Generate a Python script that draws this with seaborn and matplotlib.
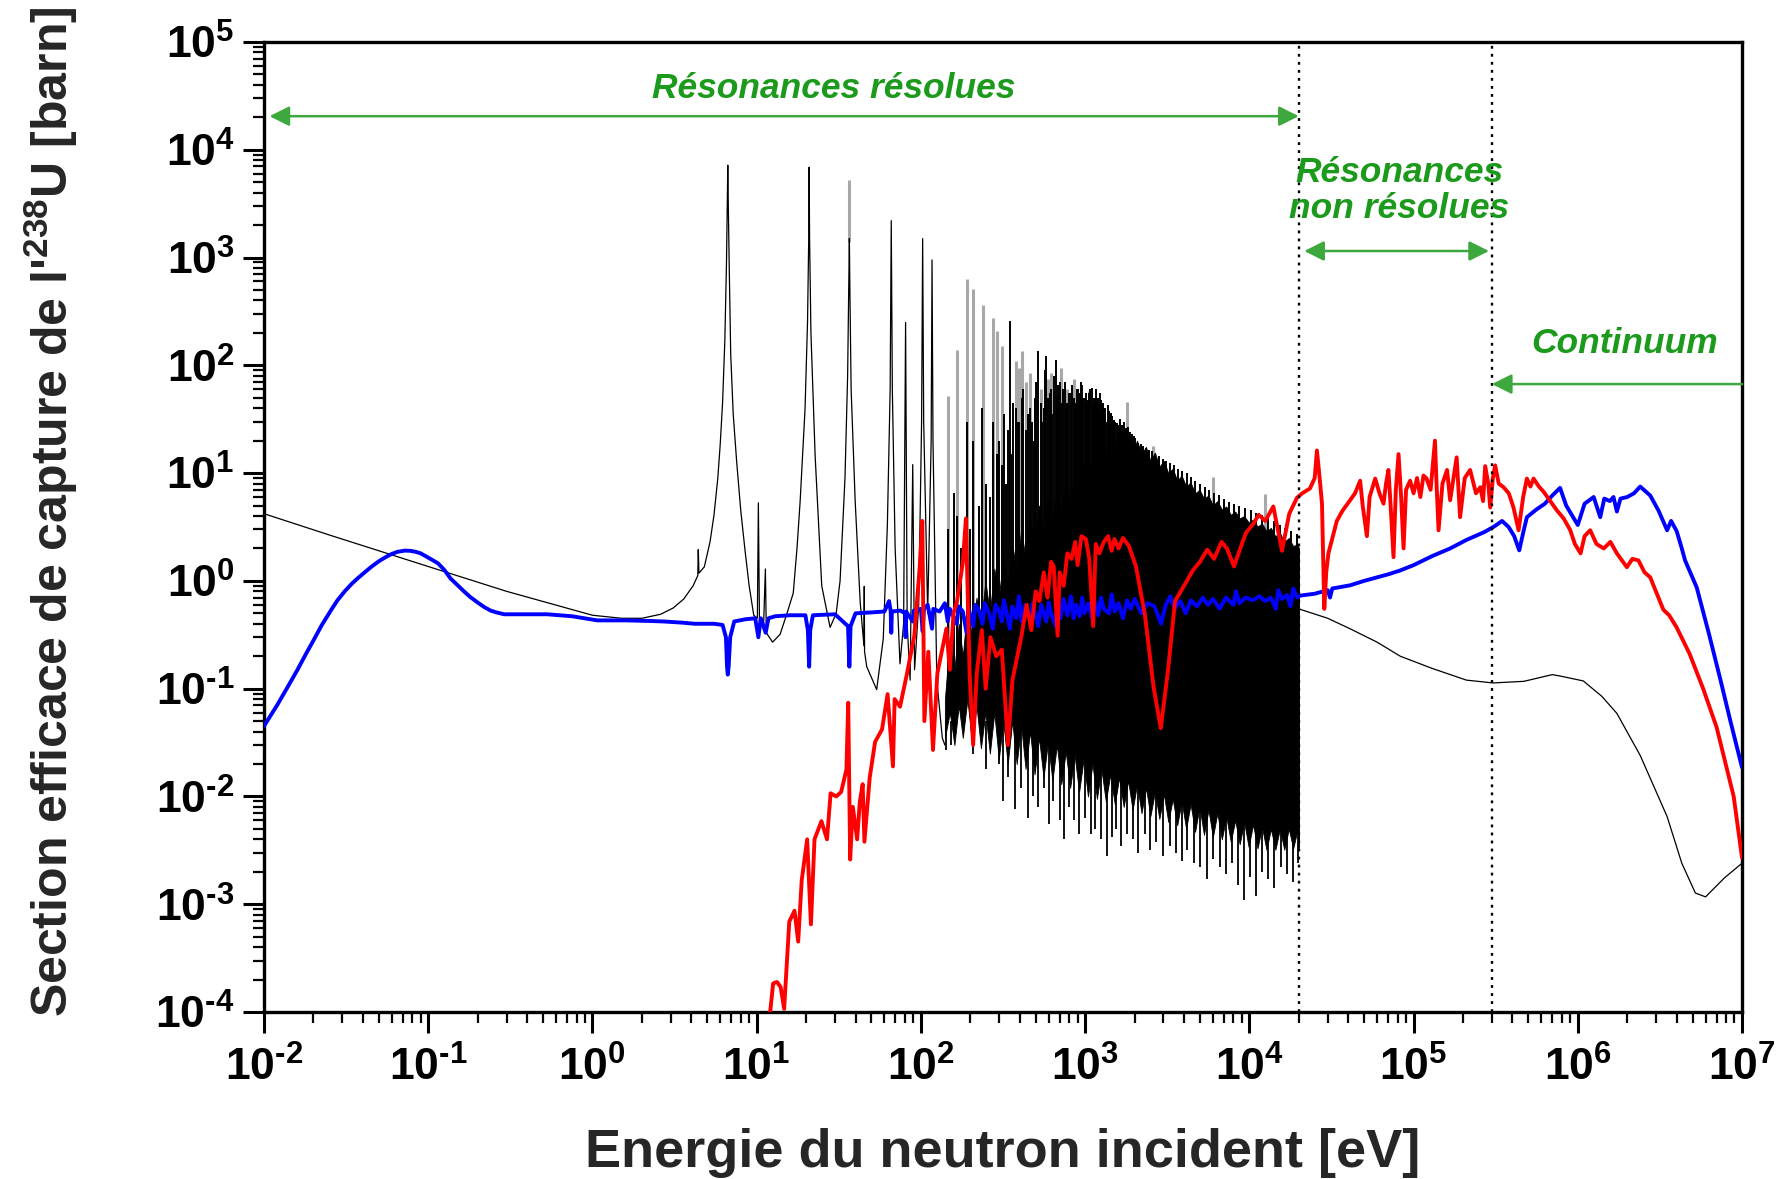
import numpy as np
import pandas as pd
import matplotlib
matplotlib.use("Agg")
import matplotlib.pyplot as plt
from matplotlib.ticker import LogLocator, FixedLocator, FuncFormatter, NullFormatter
import seaborn as sns

# ---------------------------------------------------------------------------
# U-238 capture cross section (barn) vs neutron energy (eV)
# ---------------------------------------------------------------------------
# thermal / epithermal region with the first resolved resonances
black_lo_E = [0.01, 0.0253, 0.1, 0.3, 1.0, 1.5, 2.0, 2.6, 3.1, 3.6, 4.1, 4.38, 4.41, 4.45, 4.8,
              5.2, 5.5, 5.8, 6.0, 6.2, 6.4, 6.55, 6.62, 6.67, 6.72, 6.8, 6.95, 7.2, 7.55, 8.0,
              8.5, 9.0, 9.6, 10.1, 10.24, 10.4, 11.0, 11.3, 11.45, 12.5, 13.9, 15.3, 16.7,
              17.6, 18.4, 19.7, 20.4, 20.75, 20.87, 21.0, 21.4, 22.7, 24.9, 28.0, 30.5, 32.2,
              34.5, 35.8, 36.4, 36.68, 36.95, 37.6, 39.8, 42.7, 45.0, 45.2, 45.4, 46.8, 53.8,
              59.0, 62.5, 65.0, 66.0, 67.0, 69.7, 74.6, 78.5, 80.7, 82.5, 86.0, 89.2, 91.5,
              97.0, 101.0, 102.5, 104.0, 110.0, 115.5, 116.9, 118.5, 125.0, 135.0, 140.0]
black_lo_s = [4.2, 2.65, 1.36, 0.8, 0.48, 0.45, 0.45, 0.49, 0.56, 0.68, 0.9, 1.12, 1.95, 1.18, 1.35,
              2.3, 4.1, 9.0, 18.6, 45, 170, 900, 3000, 7200, 3000, 900, 126, 35, 12.9, 4.5,
              1.9, 0.9, 0.48, 0.45, 5.3, 0.42, 0.36, 1.29, 0.33, 0.27, 0.32, 0.5, 0.77,
              2.0, 5.5, 39, 250, 1500, 6900, 1500, 200, 14.5, 0.9, 0.37, 0.5, 1.0,
              9.0, 80, 600, 1500, 500, 60, 5.5, 0.63, 0.25, 0.89, 0.22, 0.16, 0.098,
              0.29, 3.3, 60, 2200, 60, 2.0, 0.17, 0.4, 250, 0.4, 0.12, 12, 0.15,
              0.6, 30, 1500, 30, 0.5, 20, 950, 20, 0.12, 0.035, 0.03]

# dense resonance forest: ragged limits of the solid band
band_E = [140, 150, 160, 170, 180, 192, 205, 218, 232, 247, 263, 280, 298, 317, 338, 360, 383,
          408, 434, 462, 492, 524, 558, 594, 632, 673, 716, 762, 811, 863, 919, 978, 1041, 1108,
          1180, 1256, 1337, 1423, 1515, 1613, 1717, 1828, 1946, 2071, 2205, 2347, 2499, 2660,
          2832, 3015, 3209, 3417, 3637, 3872, 4122, 4388, 4671, 4973, 5294, 5636, 6000, 6387,
          6799, 7238, 7706, 8203, 8733, 9297, 9897, 10536, 11216, 11940, 12711, 13532, 14406,
          15336, 16326, 17381, 18503, 19698, 20000]
band_top = [0.08, 0.3, 0.15, 0.4, 0.2, 0.6, 0.3, 0.7, 0.4, 1.0, 0.5, 1.3, 0.7, 1.6, 0.9, 2.2, 1.2,
            3.0, 1.6, 4.0, 2.2, 5.0, 2.8, 6.0, 3.5, 7.0, 4.0, 8.5, 5.0, 10, 6, 12, 7, 15,
            10, 20, 14, 26, 18, 24, 17, 22, 16, 20, 15, 17.5, 13, 15.5,
            11.5, 13, 10, 11, 8.5, 9.5, 7.5, 8.2, 6.5, 7.0, 5.8, 6.2, 5.0, 5.5,
            4.6, 4.9, 4.1, 4.4, 3.8, 4.0, 3.5, 3.7, 3.2, 3.4, 2.9, 3.1, 2.6,
            2.8, 2.3, 2.5, 2.1, 2.2, 2.0]
band_bot = [0.035, 0.06, 0.03, 0.07, 0.035, 0.08, 0.03, 0.07, 0.028, 0.06, 0.025, 0.06, 0.022,
            0.05, 0.02, 0.05, 0.02, 0.045, 0.018, 0.04, 0.016, 0.035, 0.015, 0.032, 0.014, 0.03,
            0.013, 0.026, 0.012, 0.024, 0.011, 0.022, 0.01, 0.02, 0.0095, 0.018, 0.009, 0.016,
            0.0085, 0.015, 0.008, 0.014, 0.0075, 0.013, 0.007, 0.012, 0.0066, 0.011, 0.0062,
            0.0105, 0.0058, 0.0095, 0.0054, 0.009, 0.005, 0.0085, 0.0047, 0.008, 0.0044, 0.0075,
            0.0042, 0.007, 0.004, 0.0065, 0.0038, 0.006, 0.0036, 0.0058, 0.0034, 0.0055, 0.0033,
            0.0052, 0.0032, 0.005, 0.0032, 0.005, 0.0032, 0.005, 0.0033, 0.005, 0.0033]

# resonance peaks rising above the band (black evaluation)
peak_E = [146, 160, 166, 175, 190, 199, 209, 225, 237, 250, 264, 274, 291, 311, 330, 348, 377,
          398, 410, 434, 463, 478, 489, 519, 535, 550, 580, 595, 620, 661, 693, 708, 722, 730,
          781, 821, 851, 866, 906, 925, 937, 959, 992, 1023, 1054, 1098, 1110, 1131, 1140,
          1167, 1177, 1195, 1211, 1245, 1267, 1298, 1316, 1360, 1391, 1405, 1420, 1444, 1473,
          1522, 1597, 1639, 1662, 1688, 1709, 1755, 1782, 1797, 1845, 1870, 1903, 1968, 2020,
          2100, 2180, 2260, 2350, 2440, 2560, 2680, 2820, 2970, 3120, 3300, 3480, 3700, 3900,
          4150, 4400, 4700, 5000, 5350, 5700, 6100, 6500, 7000, 7500, 8100, 8700, 9400, 10200,
          11000, 12000, 13000, 14100, 15300, 16600, 18000, 19500,
          300, 320, 340, 355, 365, 390, 420, 450, 495, 505, 560, 570, 610, 630, 645, 675, 685,
          750, 760, 800, 835, 880, 895, 945, 975, 1010, 1040, 1070, 1120, 1160, 1185, 1230,
          1280, 1330, 1375, 1435, 1460, 1500, 1560, 1620, 1680, 1730, 1770, 1820, 1880, 1940,
          1990]
peak_s = [3, 6.6, 4, 2, 30, 3, 20, 5, 40, 8, 6, 30, 15, 12, 8, 260, 40,
          30, 50, 25, 40, 30, 20, 135, 45, 30, 122, 50, 60, 113, 40, 70, 45, 60,
          45, 55, 50, 40, 60, 55, 45, 65, 50, 45, 55, 62, 40, 50, 45,
          60, 40, 50, 38, 48, 44, 40, 35, 30, 38, 33, 30, 35, 30,
          30, 28, 25, 27, 24, 25, 23, 26, 22, 22, 21, 20, 20, 21,
          19, 18.5, 18, 17, 16.5, 16, 15, 14.5, 13.5, 13, 12.5, 12, 11, 10.5,
          10, 9.2, 8.5, 8, 7.5, 7, 6.6, 6.2, 5.8, 5.4, 5.2, 5.0, 4.7, 4.5,
          4.3, 4.1, 3.9, 3.6, 3.3, 3.1, 2.9, 2.7,
          20, 35, 25, 15, 45, 30, 60, 35, 50, 70, 40, 90, 55, 35, 80, 50, 65,
          70, 40, 55, 65, 45, 60, 70, 50, 55, 48, 60, 42, 52, 47, 55,
          45, 40, 43, 36, 34, 31, 29, 32, 28, 30, 26, 27, 24, 23,
          22]

# minima between resonances reaching below the band
dip_E = [143, 152, 208, 248, 300, 318, 340, 375, 405, 446, 480, 520, 560, 600, 640, 700, 740,
         800, 850, 920, 1000, 1080, 1150, 1250, 1360, 1450, 1550, 1650, 1800, 1950, 2100, 2300,
         2500, 2700, 3000, 3300, 3600, 3900, 4200, 4600, 5000, 5500, 6000, 6600, 7200, 7800,
         8500, 9300, 10100, 11000, 12000, 13000, 14200, 15500, 17000, 18500, 19800]
dip_s = [0.027, 0.03, 0.025, 0.018, 0.02, 0.009, 0.015, 0.0076, 0.012, 0.0063, 0.01, 0.008,
         0.012, 0.0055, 0.009, 0.006, 0.004, 0.008, 0.006, 0.0045, 0.0063, 0.0045, 0.005, 0.004,
         0.0028, 0.0042, 0.005, 0.0035, 0.0045, 0.004, 0.003, 0.0045, 0.0032, 0.0038, 0.0028,
         0.0035, 0.003, 0.0025, 0.0032, 0.0024, 0.0022, 0.0017, 0.0026, 0.0022, 0.0019, 0.0024,
         0.0015, 0.0011, 0.0018, 0.0012, 0.002, 0.0017, 0.0014, 0.0022, 0.0019, 0.0016, 0.0024]

# second evaluation (grey) where its peaks differ
grey_E = [36.68, 145.7, 165.3, 189.7, 208.5, 237.4, 273.7, 291.0, 311.3, 376.9, 397.6, 410.2,
          434.0, 463.0, 535.3, 595.0, 619.9, 693.1, 708.4, 721.6, 780.9, 851.0, 907.3, 936.8,
          991.8, 1054, 1110, 1167, 1245, 1298, 1391, 1473, 1790, 2600, 6000, 12500]
grey_s = [5200, 52, 140, 630, 510, 365, 275, 210, 150, 110, 95, 135,
          70, 85, 60, 75, 85, 65, 95, 55, 60, 74, 55, 50,
          45, 58, 48, 40, 36, 33, 30, 27, 46, 18, 9.2, 6.4]
grey_base = [1400] + [0.1] * 35

# unresolved resonance range and continuum (smooth)
black_hi_E = [2.0e4, 3.0e4, 4.1e4, 6.0e4, 8.3e4, 1.3e5, 2.1e5, 3.05e5, 4.7e5, 7.0e5, 8.0e5,
              1.08e6, 1.4e6, 1.73e6, 2.4e6, 3.5e6, 4.3e6, 5.2e6, 6.0e6, 7.8e6, 1.0e7]
black_hi_s = [0.55, 0.45, 0.36, 0.27, 0.2, 0.154, 0.12, 0.113, 0.117, 0.135, 0.13,
              0.118, 0.085, 0.059, 0.024, 0.0065, 0.0024, 0.00127, 0.00117, 0.00175, 0.0024]

# ---------------------------------------------------------------------------
# blue spectrum
# ---------------------------------------------------------------------------
blue_E = [0.01, 0.012, 0.014, 0.016, 0.018, 0.02, 0.0225, 0.0255, 0.028, 0.031, 0.034, 0.037,
          0.041, 0.045, 0.05, 0.055, 0.06, 0.065, 0.072, 0.078, 0.084, 0.09, 0.099, 0.107,
          0.115, 0.125, 0.137, 0.15, 0.165, 0.18, 0.2, 0.22, 0.24, 0.26, 0.29, 0.4, 0.53,
          0.75, 1.07, 1.6, 2.2, 2.73,
          3.5, 4.2, 4.8, 5.5, 6.2, 6.5, 6.6, 6.67, 6.75, 6.9, 7.3, 8.5, 9.8, 10.24, 10.6,
          11.35, 11.8, 13, 16, 19.8, 20.5, 20.87, 21.2, 22, 30, 36.0, 36.68, 37.3, 40, 50,
          60, 64, 65.5, 66.0, 66.6, 75, 80.2, 80.7, 81.3, 89.2, 90.5, 100, 102.5, 104.5, 110,
          116.9, 119, 130, 140, 145.7, 150, 165.3, 170, 180, 189.7, 195, 208.5, 215, 225,
          237.4, 245, 260, 273.7, 285, 300, 311, 320, 348, 360, 380, 395, 410, 430, 463, 480,
          519, 540, 580, 600, 620, 661, 680, 708, 740, 781, 820, 851, 880, 925, 960, 990,
          1050, 1100, 1140, 1200, 1250, 1300, 1400, 1450, 1520, 1600, 1700, 1800, 1900, 2000,
          2200, 2400, 2650, 2900, 3100, 3300, 3500, 3800, 4100, 4400, 4800, 5200, 5600, 6000,
          6600, 7200, 8000, 8300, 8700, 9500, 10500, 11500, 12500, 13500, 14500, 15000, 15800,
          17000, 17800, 18500, 19500, 20400, 25000, 30000, 31000, 32000, 41100, 50000, 60000,
          70000, 83000, 1.0e5, 1.3e5, 1.67e5, 2.1e5, 2.7e5, 3.1e5, 3.46e5, 3.8e5, 4.1e5,
          4.4e5, 4.7e5, 4.9e5, 5.6e5, 6.3e5, 7.0e5, 7.8e5, 8.5e5, 1.0e6, 1.1e6, 1.25e6,
          1.37e6, 1.45e6, 1.57e6, 1.65e6, 1.73e6, 1.82e6, 2.0e6, 2.2e6, 2.4e6, 2.76e6, 3.1e6,
          3.5e6, 3.7e6, 4.0e6, 4.3e6, 4.5e6, 5.3e6, 6.3e6, 7.4e6, 8.5e6, 1.0e7]
blue_s = [0.045, 0.07, 0.105, 0.15, 0.21, 0.28, 0.39, 0.53, 0.66, 0.8, 0.93, 1.05,
          1.2, 1.35, 1.52, 1.66, 1.78, 1.86, 1.91, 1.9, 1.86, 1.8, 1.66, 1.55,
          1.45, 1.27, 1.05, 0.92, 0.8, 0.71, 0.63, 0.57, 0.53, 0.51, 0.49, 0.49, 0.49,
          0.47, 0.43, 0.43, 0.425, 0.42,
          0.41, 0.40, 0.40, 0.40, 0.39, 0.3, 0.16, 0.135, 0.16, 0.3, 0.42, 0.44, 0.45, 0.3, 0.45,
          0.33, 0.45, 0.47, 0.48, 0.48, 0.35, 0.16, 0.35, 0.48, 0.49, 0.38, 0.16, 0.38, 0.5, 0.51,
          0.52, 0.65, 0.52, 0.33, 0.52, 0.53, 0.5, 0.3, 0.52, 0.42, 0.53, 0.55, 0.34, 0.55, 0.6,
          0.36, 0.55, 0.52, 0.62, 0.42, 0.55, 0.4, 0.58, 0.52, 0.33, 0.56, 0.38, 0.6, 0.54,
          0.4, 0.62, 0.5, 0.36, 0.6, 0.52, 0.42, 0.66, 0.36, 0.58, 0.45, 0.72, 0.42, 0.6, 0.45, 0.62,
          0.38, 0.6, 0.42, 0.63, 0.5, 0.38, 0.62, 0.45, 0.68, 0.48, 0.72, 0.45, 0.6, 0.47, 0.7, 0.5,
          0.62, 0.45, 0.66, 0.48, 0.7, 0.55, 0.5, 0.75, 0.52, 0.62, 0.45, 0.66, 0.55, 0.68,
          0.5, 0.62, 0.58, 0.4, 0.6, 0.72, 0.55, 0.65, 0.5, 0.66, 0.58, 0.7, 0.6, 0.68,
          0.55, 0.7, 0.6, 0.8, 0.62, 0.7, 0.66, 0.72, 0.65, 0.7, 0.55, 0.82, 0.68,
          0.74, 0.58, 0.85, 0.7, 0.73, 0.76, 0.82, 0.7, 0.85, 0.91, 1.0, 1.08,
          1.15, 1.25, 1.4, 1.7, 2.0, 2.4, 2.84, 3.2, 3.6, 3.15, 2.6,
          1.92, 3.0, 3.9, 4.6, 5.2, 6.2, 7.3, 5.0, 3.3, 5.2, 6.0,
          3.9, 5.8, 5.5, 6.0, 4.4, 5.8, 6.0, 6.5, 7.5, 6.2, 4.5,
          2.95, 3.6, 2.9, 2.0, 1.55, 0.87, 0.32, 0.12, 0.05, 0.0186]

# ---------------------------------------------------------------------------
# red spectrum
# ---------------------------------------------------------------------------
red_E = [11.9, 12.6, 13.3, 14.0, 14.7, 15.8, 17.0, 17.9, 18.8, 20.3, 21.4, 22.5, 24.8, 26.8,
         28.2, 30.5, 32.7, 35.2, 36.1, 37.1, 38.5, 40.9, 42.5, 44.2, 45.3, 48.8, 52.6, 58.0,
         62.7, 67.6, 69.2, 74.6, 82.4, 91.2, 98.4, 102.0, 105.0, 111.0, 118.5, 126.0, 143.0,
         150.0, 158.0, 166.0, 180.0, 188.0, 198.0, 208.0, 219.0, 235.0, 248.0, 265.0, 288.0,
         311.0, 339.0, 361.0, 410.0, 440.0, 470.0, 500.0, 527.0, 560.0, 590.0, 620.0, 644.0,
         680.0, 700.0, 740.0, 780.0, 826.0, 870.0, 900.0, 950.0, 1010.0, 1060.0, 1120.0,
         1160.0, 1220.0, 1300.0, 1380.0, 1450.0, 1510.0, 1600.0, 1700.0, 1850.0, 2040.0,
         2310.0, 2620.0, 2890.0, 3200.0, 3530.0, 4000.0, 4540.0, 5000.0, 5540.0, 6100.0,
         6770.0, 7300.0, 8070.0, 8800.0, 9550.0, 10600.0, 11400.0, 12500.0, 14000.0, 15800.0,
         17500.0, 19500.0, 21000.0, 23400.0, 25000.0, 25800.0, 26800.0, 27700.0, 28600.0,
         29400.0, 30300.0, 34100.0, 37000.0, 41100.0, 44000.0, 47300.0, 49000.0, 52000.0,
         54000.0, 58400.0, 62000.0, 65600.0, 68000.0, 70300.0, 72500.0, 75500.0, 78000.0,
         81000.0, 84000.0, 86900.0, 90000.0, 95300.0, 1.0e5, 1.05e5, 1.1e5, 1.15e5, 1.2e5,
         1.27e5, 1.35e5, 1.38e5, 1.42e5, 1.5e5, 1.6e5, 1.67e5, 1.75e5, 1.83e5, 1.92e5,
         2.05e5, 2.21e5, 2.4e5, 2.55e5, 2.65e5, 2.73e5, 2.85e5, 2.93e5, 3.04e5, 3.14e5,
         3.3e5, 3.53e5, 3.8e5, 4.06e5, 4.36e5, 4.65e5, 4.9e5, 5.15e5, 5.38e5, 5.8e5, 6.2e5,
         6.8e5, 7.47e5, 8.2e5, 9.0e5, 9.6e5, 1.04e6, 1.1e6, 1.19e6, 1.3e6, 1.44e6, 1.58e6,
         1.73e6, 1.99e6, 2.15e6, 2.34e6, 2.55e6, 2.76e6, 3.32e6, 3.6e6, 4.0e6, 4.8e6, 5.8e6,
         7.0e6, 8.9e6, 1.0e7]
red_s = [8e-5, 1.84e-4, 1.9e-4, 1.7e-4, 1.07e-4, 6.9e-4, 8.7e-4, 4.5e-4, 1.66e-3, 4.0e-3,
         6.5e-4, 4.0e-3, 5.9e-3, 4.0e-3, 1.07e-2, 1.0e-2, 1.1e-2, 1.78e-2, 7.4e-2, 2.6e-3,
         8.0e-3, 4.0e-3, 9.0e-3, 1.3e-2, 3.8e-3, 1.5e-2, 3.2e-2, 4.2e-2, 8.9e-2, 1.9e-2,
         8.0e-2, 6.8e-2, 0.139, 0.31, 1.36, 3.6, 0.05, 0.22, 0.027, 0.139, 0.36,
         0.15, 0.5, 0.65, 1.47, 3.8, 0.14, 0.03, 0.14, 0.35, 0.10, 0.3, 0.2,
         0.23, 0.03, 0.12, 0.31, 0.6, 0.35, 0.8, 0.65, 1.2, 0.7, 1.5, 1.36,
         0.31, 1.2, 0.9, 1.8, 1.6, 2.3, 1.4, 2.6, 2.45, 1.6, 0.38,
         2.2, 1.8, 2.3, 2.6, 1.9, 2.45, 2.0, 2.5, 2.1, 1.36,
         0.49, 0.1, 0.043, 0.15, 0.65, 0.9, 1.26, 1.5, 1.95, 1.6,
         2.3, 2.0, 1.36, 2.0, 2.8, 3.4, 4.1, 3.6, 4.9, 1.9,
         4.2, 5.9, 6.5, 7.2, 9.0, 16.2, 9.0, 5.2, 0.55,
         1.2, 1.8, 3.6, 4.5, 5.6, 6.5, 8.5, 5.0, 2.6,
         6.0, 8.9, 6.5, 5.2, 8.0, 10.7, 5.0, 1.66, 7.0,
         15.0, 6.0, 2.0, 7.0, 8.5, 6.5, 9.0, 6.0, 9.5, 8.9,
         7.0, 20.0, 8.0, 2.95, 8.0, 10.7, 5.6, 9.0, 14.0, 3.9,
         9.0, 10.7, 6.5, 7.4, 5.5, 11.6, 8.0, 4.8, 9.0, 11.8,
         8.0, 7.4, 6.5, 4.8, 2.95, 6.0, 8.9, 7.5, 8.9, 7.5, 6.7,
         5.5, 4.5, 3.8, 2.95, 2.2, 1.8, 2.6, 2.95, 2.2, 2.0, 2.3,
         1.8, 1.34, 1.6, 1.55, 1.2, 1.08, 0.54, 0.48, 0.37, 0.21, 0.10,
         0.044, 0.01, 0.0027]

# region boundaries (eV)
limit_resolved = 2.0e4
limit_unresolved = 3.0e5
decades_x = list(range(-2, 8))
decades_y = list(range(-4, 6))

# ---------------------------------------------------------------------------
sns.set_theme(style="ticks")
plt.rcParams["font.family"] = ["Liberation Sans", "DejaVu Sans"]
plt.rcParams["font.weight"] = "bold"
plt.rcParams["mathtext.fontset"] = "custom"
plt.rcParams["mathtext.rm"] = "Liberation Sans:bold"
plt.rcParams["mathtext.bf"] = "Liberation Sans:bold"
plt.rcParams["mathtext.it"] = "Liberation Sans:bold:italic"

W, H = 1781, 1179
fig = plt.figure(figsize=(W / 100, H / 100), dpi=100)
ax = fig.add_axes([264 / W, 1 - 1012 / H, (1742 - 264) / W, (1012 - 42) / H])
ax.set_xscale("log")
ax.set_yscale("log")
ax.set_xlim(1e-2, 1e7)
ax.set_ylim(1e-4, 1e5)

grey = "#a8a8a8"
# grey evaluation peaks (behind)
ax.vlines(grey_E, grey_base, grey_s, color=grey, lw=2.2, zorder=1)

# black evaluation
sns.lineplot(x=black_lo_E, y=black_lo_s, ax=ax, color="black", lw=0.9,
             estimator=None, sort=False, zorder=2)
ax.fill_between(band_E, band_bot, band_top, color="black", lw=0.6, edgecolor="black",
                zorder=2)
ax.vlines(peak_E, 0.1, peak_s, color="black", lw=1.4, zorder=2)
ax.vlines(dip_E, dip_s, 0.05, color="black", lw=1.3, zorder=2)
ax.vlines([band_E[-1]], band_bot[-1], band_top[-1], color="black", lw=1.2, zorder=2)
sns.lineplot(x=black_hi_E, y=black_hi_s, ax=ax, color="black", lw=0.9,
             estimator=None, sort=False, zorder=2)

# spectra
sns.lineplot(x=blue_E, y=blue_s, ax=ax, color="#0000ff", lw=2.8,
             estimator=None, sort=False, zorder=3)
sns.lineplot(x=red_E, y=red_s, ax=ax, color="#ff0000", lw=2.8,
             estimator=None, sort=False, zorder=4)

# region boundaries
for xb in (limit_resolved, limit_unresolved):
    ax.axvline(xb, color="black", lw=1.7, ls=(0, (1.2, 2.2)), zorder=5)

# region annotations
green_txt = "#1c9a1c"
green_line = "#3da83d"
arrow_kw = dict(arrowstyle="<|-|>", color=green_line, lw=1.8, mutation_scale=30,
                shrinkA=0, shrinkB=0)
ax.annotate("", xy=(1.08e-2, 2.05e4), xytext=(2.0e4, 2.05e4), arrowprops=arrow_kw, zorder=6)
ax.annotate("", xy=(2.16e4, 1150), xytext=(2.88e5, 1150), arrowprops=arrow_kw, zorder=6)
ax.annotate("", xy=(3.0e5, 67), xytext=(1.0e7, 67),
            arrowprops=dict(arrowstyle="-|>", color=green_line, lw=1.8, mutation_scale=30,
                            shrinkA=0, shrinkB=0), zorder=6)

txt_kw = dict(color=green_txt, fontsize=25.5, fontweight="bold", fontstyle="italic",
              ha="center", va="center", zorder=7)
ax.text(29.6, 3.7e4, "Résonances résolues", **txt_kw)
ax.text(8.2e4, 4.2e3, "Résonances\nnon résolues", linespacing=1.1, **txt_kw)
ax.text(1.92e6, 158, "Continuum", **txt_kw)

# axes styling
for s in ax.spines.values():
    s.set_linewidth(2.4)
    s.set_color("black")


def decade_label(v, pos):
    k = int(round(np.log10(v)))
    if k < 0:
        return r"$\mathbf{10^{\text{-}%d}}$" % (-k)
    return r"$\mathbf{10^{%d}}$" % k


ax.xaxis.set_major_locator(FixedLocator([10.0 ** k for k in decades_x]))
ax.yaxis.set_major_locator(FixedLocator([10.0 ** k for k in decades_y]))
for axis in (ax.xaxis, ax.yaxis):
    axis.set_minor_locator(LogLocator(base=10, subs=np.arange(2, 10), numticks=30))
    axis.set_minor_formatter(NullFormatter())
    axis.set_major_formatter(FuncFormatter(decade_label))

ax.tick_params(axis="both", which="major", direction="out", length=15, width=2.2,
               labelsize=32, color="black", labelcolor="black")
ax.tick_params(axis="both", which="minor", direction="out", length=8, width=1.6,
               color="black")
ax.tick_params(axis="x", which="major", pad=10)
ax.tick_params(axis="y", which="major", pad=6)
ax.tick_params(top=False, right=False, which="both")

ax.set_xlabel("Energie du neutron incident [eV]", fontsize=39, fontweight="bold",
              va="center")
ax.xaxis.set_label_coords(0.5, (1012 - 1153) / 970)
ax.set_ylabel(r"Section efficace de capture de l'$^{\mathbf{238}}$U [barn]", fontsize=36,
              fontweight="bold", va="center")
ax.yaxis.set_label_coords((51 - 264) / 1478, (1012 - 512) / 970)

fig.savefig("out.png", dpi=100, facecolor="white")
